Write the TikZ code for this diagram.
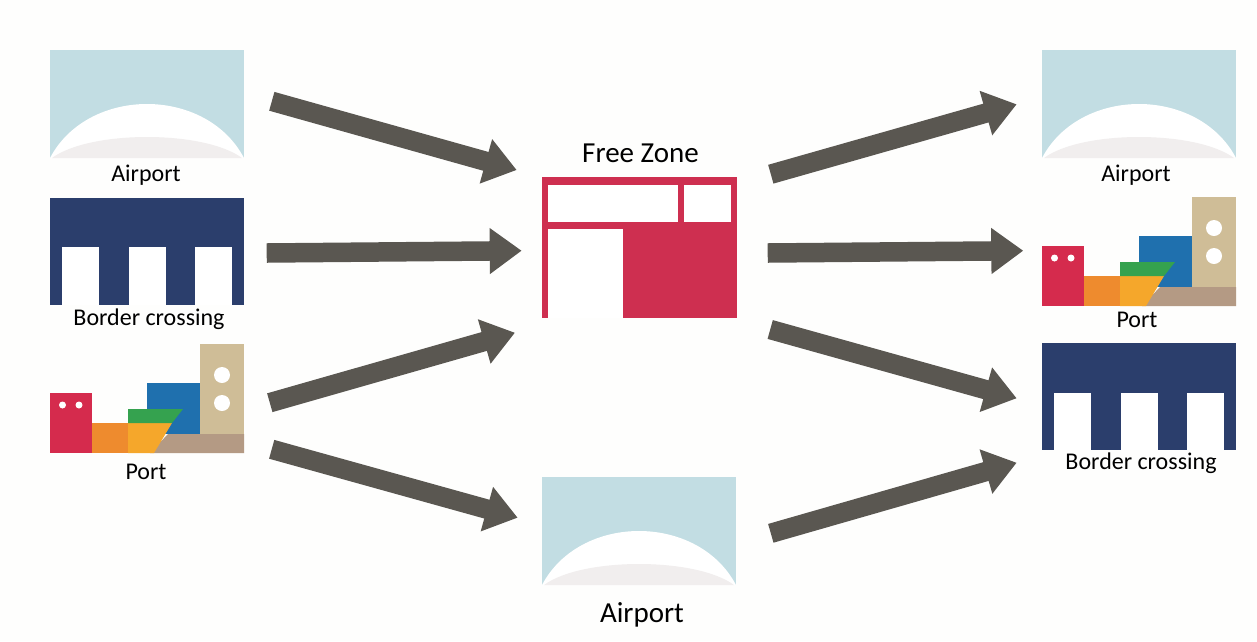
\documentclass[tikz,border=0pt]{standalone}
\usepackage{fontspec}
\setmainfont{Carlito}
\usepackage{tikz}
\usetikzlibrary{arrows.meta,positioning,calc}
\definecolor{skyblue}{HTML}{C2DDE3}
\definecolor{domegray}{HTML}{F1EEEE}
\definecolor{borderblue}{HTML}{2B3E6C}
\definecolor{zonered}{HTML}{CE2F50}
\definecolor{flowgray}{HTML}{5A5751}
\definecolor{portred}{HTML}{D52B4D}
\definecolor{portorange}{HTML}{EE8B2E}
\definecolor{portyellow}{HTML}{F5A72B}
\definecolor{portgreen}{HTML}{35A24F}
\definecolor{portblue}{HTML}{1F70AE}
\definecolor{porttan}{HTML}{CFBD97}
\definecolor{portbrown}{HTML}{B49A84}
\definecolor{paper}{HTML}{FEFEFD}
\tikzset{
  flow/.style={draw=flowgray,line width=19.5pt,-{Triangle[length=32pt,width=44pt,fill=flowgray]}},
  lab/.style={font=\fontsize{24}{26}\selectfont,text=black,inner sep=0pt},
  biglab/.style={font=\fontsize{29}{31}\selectfont,text=black,inner sep=0pt},
  airporticon/.pic={
    \fill[skyblue] (0,0) rectangle (194,108);
    \fill[white] (0,108) .. controls (38,36) and (156,36) .. (194,108) -- cycle;
    \fill[domegray] (2,108) .. controls (40,80) and (154,80) .. (192,108) -- cycle;
  },
  bordericon/.pic={
    \fill[borderblue] (0,0) rectangle (194,107);
    \foreach \x in {12.3,78.7,145} \fill[white] (\x,49.5) rectangle ++(37,57.5);
  },
  porticon/.pic={
    \fill[portblue] (97,39) rectangle (150,90);
    \fill[porttan] (150,0) rectangle (194,90);
    \fill[white] (172,31) circle (8);
    \fill[white] (172,59) circle (8);
    \fill[portbrown] (118,90) -- (194,90) -- (194,109) -- (100,109) -- cycle;
    \fill[portred] (0,49) rectangle (42,109);
    \fill[white] (12.5,61) circle (3.5);
    \fill[white] (29,61) circle (3.5);
    \fill[portorange] (42,79) rectangle (78,109);
    \fill[portyellow] (78,79) -- (122,79) -- (104,109) -- (78,109) -- cycle;
    \fill[portgreen] (78,65) -- (133,65) -- (122,79) -- (78,79) -- cycle;
  }
}
\begin{document}
\begin{tikzpicture}[x=1pt,y=-1pt]
\fill[paper] (0,0) rectangle (1257,641);
\useasboundingbox (0,0) rectangle (1257,641);
% sources
\pic at (50,50) {airporticon};
\pic at (50,197.5) {bordericon};
\pic at (50,344) {porticon};
\node[lab] (airportA) at (146,175.5) {Airport};
\node[lab] (borderA) at (149,319.5) {Border crossing};
\node[lab] (portA) at (146,471.5) {Port};
% free zone
\fill[zonered] (542,177) rectangle (737,318);
\fill[white] (548,185) rectangle (678,222);
\fill[white] (684,185) rectangle (731,222);
\fill[white] (548,229) rectangle (623,318);
\node[biglab] (zone) at (640.5,153.5) {Free Zone};
% lower airport
\pic at (542,477) {airporticon};
\node[biglab] (airportB) at (642,614.5) {Airport};
% destinations
\pic at (1042,50) {airporticon};
\pic at (1042,197) {porticon};
\pic at (1042,343.3) {bordericon};
\node[lab] (airportC) at (1136,175.5) {Airport};
\node[lab] (portC) at (1137,319.5) {Port};
\node[lab] (borderC) at (1141,463.5) {Border crossing};
% arrow ends
\coordinate (a1) at (271.8,101.3);
\coordinate (z1) at (516.7,170);
\coordinate (a2) at (266.7,253);
\coordinate (z2) at (521.7,250.7);
\coordinate (a3) at (269.8,402.7);
\coordinate (z3) at (515,332.7);
\coordinate (a4) at (271.7,449.3);
\coordinate (b4) at (517.7,517.7);
\coordinate (o1) at (770.8,174.2);
\coordinate (c1) at (1016.7,104.3);
\coordinate (o2) at (767.7,253);
\coordinate (c2) at (1023.3,250.7);
\coordinate (o3) at (770.2,329.5);
\coordinate (c3) at (1016.7,398.3);
\coordinate (o4) at (770.8,533.3);
\coordinate (c4) at (1016.7,462.7);
\draw[flow] (a1) -- (z1);
\draw[flow] (a2) -- (z2);
\draw[flow] (a3) -- (z3);
\draw[flow] (a4) -- (b4);
\draw[flow] (o1) -- (c1);
\draw[flow] (o2) -- (c2);
\draw[flow] (o3) -- (c3);
\draw[flow] (o4) -- (c4);
\end{tikzpicture}
\end{document}
